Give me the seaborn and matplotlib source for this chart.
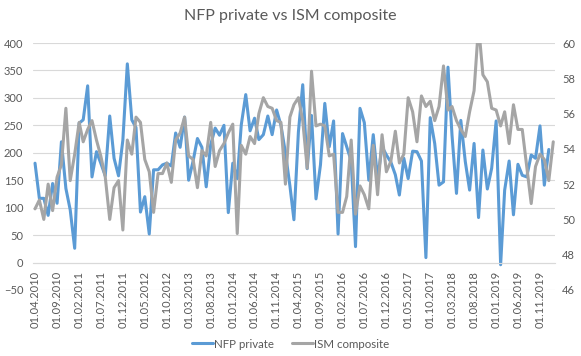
import numpy as np
import pandas as pd
import matplotlib
matplotlib.use("Agg")
import matplotlib.pyplot as plt
import matplotlib.dates as mdates
import seaborn as sns

# -------------------- DATA --------------------
START_MONTH = "2010-04-01"

# NFP private, monthly change (thousands), Apr 2010 - Jan 2020
nfp_private = [
    181, 117, 117, 86, 144, 108, 220, 135, 96, 26,
    254, 260, 322, 156, 202, 181, 158, 267, 190, 158,
    223, 362, 260, 246, 92, 120, 52, 169, 169, 178,
    181, 176, 236, 210, 265, 150, 185, 226, 210, 138,
    215, 245, 232, 250, 91, 181, 153, 251, 306, 240,
    263, 224, 233, 267, 233, 278, 250, 200, 140, 78,
    238, 324, 171, 268, 116, 178, 290, 211, 258, 52,
    235, 211, 185, 29, 281, 255, 150, 233, 153, 211,
    196, 183, 160, 123, 190, 153, 203, 202, 185, 9,
    264, 217, 141, 147, 356, 232, 126, 259, 184, 132,
    217, 82, 205, 134, 172, 258, -4, 132, 185, 87,
    179, 159, 156, 196, 190, 249, 141, 206,
]

# ISM composite index, Apr 2010 - Feb 2020 (one month longer than NFP)
ism_composite = [
    50.6, 51.1, 50.0, 52.0, 50.5, 52.4, 53.1, 56.3, 52.2, 53.7,
    55.5, 54.4, 55.1, 55.6, 54.5, 53.6, 52.4, 50.0, 51.8, 52.2,
    49.4, 54.5, 53.7, 55.8, 55.5, 53.4, 52.7, 50.4, 52.6, 52.6,
    53.2, 52.1, 54.5, 54.9, 55.8, 53.6, 53.4, 51.8, 53.9, 53.6,
    55.5, 53.0, 53.9, 54.3, 54.9, 55.4, 49.2, 54.2, 53.7, 54.7,
    54.3, 56.0, 56.9, 56.4, 56.3, 55.6, 55.5, 52.0, 55.8, 56.5,
    56.9, 55.6, 52.9, 58.4, 55.3, 55.4, 55.3, 53.6, 53.7, 50.4,
    50.4, 51.3, 54.5, 50.3, 51.9, 51.4, 50.6, 54.2, 51.4, 54.8,
    52.7, 53.3, 55.0, 53.2, 53.7, 56.9, 56.1, 54.4, 57.0, 56.4,
    56.7, 55.6, 56.4, 58.7, 56.2, 56.4, 55.6, 55.1, 54.7, 56.1,
    57.3, 61.0, 58.2, 57.8, 56.3, 56.2, 55.3, 56.1, 54.3, 56.5,
    55.1, 55.1, 53.0, 50.9, 53.0, 53.7, 53.4, 52.2, 54.4,
]

LEFT_TICKS = list(range(-50, 401, 50))
RIGHT_TICKS = list(range(46, 61, 2))

BLUE = "#5B9BD5"
GRAY = "#A5A5A5"
TEXT = "#595959"
GRID = "#D9D9D9"

# -------------------- FRAME --------------------
dates = pd.date_range(START_MONTH, periods=len(ism_composite), freq="MS")
df = pd.DataFrame({
    "date": dates,
    "NFP private": nfp_private + [np.nan] * (len(dates) - len(nfp_private)),
    "ISM composite": ism_composite,
})

# -------------------- PLOT --------------------
sns.set_theme(style="white")
plt.rcParams["font.family"] = ["Lato", "DejaVu Sans"]

W, H = 581, 356
fig = plt.figure(figsize=(W / 100, H / 100), dpi=100)
ax = fig.add_axes([33 / W, 1 - 290 / H, (555 - 33) / W, (290 - 43) / H])
ax2 = ax.twinx()

sns.lineplot(data=df, x="date", y="NFP private", ax=ax, color=BLUE,
             linewidth=2.2, label="NFP private", legend=False)
sns.lineplot(data=df, x="date", y="ISM composite", ax=ax2, color=GRAY,
             linewidth=2.2, label="ISM composite", legend=False)

# y axes
ax.set_ylim(-50, 400)
ax.set_yticks(LEFT_TICKS)
ax2.set_ylim(46, 60)
ax2.set_yticks(RIGHT_TICKS)
ax.yaxis.grid(True, color=GRID, linewidth=0.8)
ax.set_axisbelow(True)
for a in (ax, ax2):
    a.set_xlabel("")
    a.set_ylabel("")
    for s in ("top", "left", "right"):
        a.spines[s].set_visible(False)
ax2.spines["bottom"].set_visible(False)
ax.tick_params(axis="y", length=0, pad=7, labelsize=8, labelcolor=TEXT)
ax2.tick_params(axis="y", length=0, pad=5, labelsize=8, labelcolor=TEXT)

# x axis sits on the zero line
ax.spines["bottom"].set_position(("data", 0))
ax.spines["bottom"].set_color(GRID)
ax.spines["bottom"].set_linewidth(0.8)
ax.set_xlim(dates[0] - pd.Timedelta(days=14), dates[-1] + pd.Timedelta(days=12))
ax.set_xticks(dates[::5])
ax.xaxis.set_major_formatter(mdates.DateFormatter("%d.%m.%Y"))
ax.tick_params(axis="x", length=3, width=0.8, color=GRID, pad=3,
               labelsize=8, labelcolor=TEXT, labelrotation=90)

fig.suptitle("NFP private vs ISM composite", x=0.5, y=1 - 16 / H,
             va="center", fontsize=11.5, color=TEXT)

h1, l1 = ax.get_legend_handles_labels()
h2, l2 = ax2.get_legend_handles_labels()
fig.legend(h1 + h2, l1 + l2, loc="center", bbox_to_anchor=(0.5, 1 - 344 / H),
           ncol=2, frameon=False, fontsize=8.3, handlelength=1.8,
           handletextpad=0.1, columnspacing=1.6, labelcolor=TEXT)

fig.savefig("out.png", dpi=100)
